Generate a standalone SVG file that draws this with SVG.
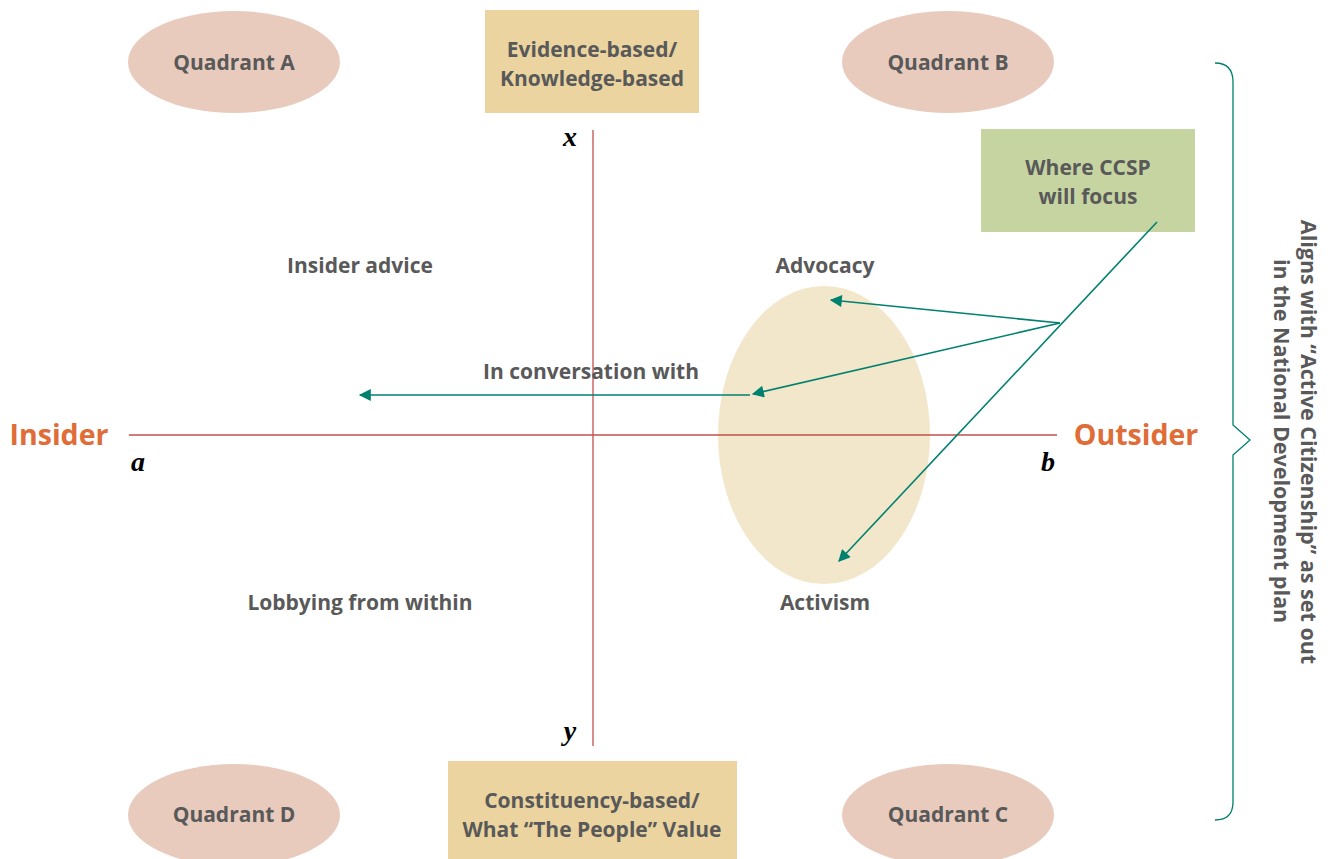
<svg xmlns="http://www.w3.org/2000/svg" width="1333" height="859" viewBox="0 0 1333 859">
<style>
.q{fill:#e8cbbd}
.lbl{font-family:"Open Sans","Liberation Sans",sans-serif;font-weight:700;font-size:21px;fill:#595959;text-anchor:middle}
.big{font-family:"Open Sans","Liberation Sans",sans-serif;font-weight:700;font-size:28.5px;fill:#e06c38;text-anchor:middle}
.var{font-family:"Liberation Serif",serif;font-style:italic;font-weight:700;font-size:28px;fill:#000;text-anchor:middle}
.axis{stroke:#c0504d;stroke-width:1.3;fill:none}
.con{stroke:#00806f;stroke-width:1.6;fill:none}
.side{font-family:"Open Sans","Liberation Sans",sans-serif;font-weight:700;font-size:21.5px;fill:#595959;text-anchor:middle}
</style>
<defs>
<marker id="ah2" viewBox="0 0 10 10" refX="9" refY="5" markerWidth="16" markerHeight="12" markerUnits="userSpaceOnUse" orient="auto"><path d="M0,0 L10,5 L0,10 z" fill="#00806f"/></marker>
</defs>
<rect width="1333" height="859" fill="#fff"/>
<g id="focus-ellipse"><ellipse cx="824" cy="435" rx="106" ry="149" fill="#f3e7cb"/></g>
<g id="axes">
<line class="axis" x1="593" y1="130" x2="593" y2="746"/>
<line class="axis" x1="129" y1="435" x2="1057" y2="435"/>
</g>
<g id="quadrant-a"><ellipse class="q" cx="234" cy="62" rx="106" ry="51"/><text class="lbl" x="234" y="70">Quadrant A</text></g>
<g id="quadrant-b"><ellipse class="q" cx="948" cy="62" rx="106" ry="51"/><text class="lbl" x="948" y="70">Quadrant B</text></g>
<g id="quadrant-d"><ellipse class="q" cx="234" cy="815" rx="106" ry="51"/><text class="lbl" x="234" y="822">Quadrant D</text></g>
<g id="quadrant-c"><ellipse class="q" cx="948" cy="815" rx="106" ry="51"/><text class="lbl" x="948" y="822">Quadrant C</text></g>
<g id="evidence"><rect x="485" y="10" width="214" height="103" fill="#ebd49f"/><text class="lbl" x="592" y="57">Evidence-based/</text><text class="lbl" x="592" y="86">Knowledge-based</text></g>
<g id="constituency"><rect x="448" y="761" width="289" height="98" fill="#ebd49f"/><text class="lbl" x="592" y="808">Constituency-based/</text><text class="lbl" x="592" y="837">What “The People” Value</text></g>
<g id="ccsp"><rect x="981" y="129" width="214" height="103" fill="#c5d4a1"/><text class="lbl" x="1088" y="175">Where CCSP</text><text class="lbl" x="1088" y="204">will focus</text></g>
<g id="labels">
<text class="big" x="59" y="445">Insider</text>
<text class="big" x="1136" y="445">Outsider</text>
<text class="var" x="570" y="146">x</text>
<text class="var" x="570" y="740">y</text>
<text class="var" x="138" y="471">a</text>
<text class="var" x="1048" y="471">b</text>
<text class="lbl" x="360" y="273">Insider advice</text>
<text class="lbl" x="825" y="273">Advocacy</text>
<text class="lbl" x="591" y="379">In conversation with</text>
<text class="lbl" x="360" y="610">Lobbying from within</text>
<text class="lbl" x="825" y="610">Activism</text>
</g>
<g id="connectors">
<line class="con" x1="1060" y1="323" x2="831" y2="300" marker-end="url(#ah2)"/>
<line class="con" x1="1060" y1="323" x2="753" y2="394" marker-end="url(#ah2)"/>
<line class="con" x1="1157" y1="222" x2="839" y2="561" marker-end="url(#ah2)"/>
<line class="con" x1="750" y1="395" x2="360" y2="395" marker-end="url(#ah2)"/>
</g>
<g id="brace">
<path d="M1215,63 Q1233,63 1233,82 L1233,425 L1250,440 L1233,455 L1233,802 Q1233,820 1215,820" stroke="#00806f" stroke-width="1.3" fill="none"/>
</g>
<g id="side-note">
<text class="side" transform="translate(1301,442) rotate(90)">Aligns with “Active Citizenship” as set out</text>
<text class="side" transform="translate(1274,441) rotate(90)">in the National Development plan</text>
</g>
</svg>
